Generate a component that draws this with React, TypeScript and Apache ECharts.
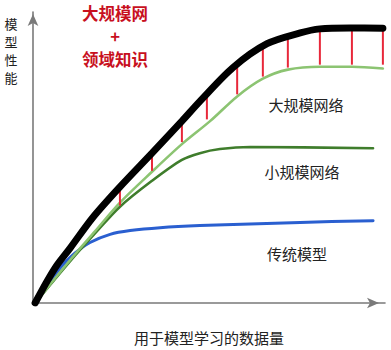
import React, { useEffect, useRef } from "react";
import * as echarts from "echarts";

// Curves (x: data amount 0-100, y: performance 0-100)
const bigDomainX = [0.6, 4.0, 6.8, 10.5, 17.0, 24.7, 33.8, 42.3, 47.4, 56.8, 66.5, 75.9, 81.5, 90.1, 99.4];
const bigDomainY = [0, 7.5, 13.0, 18.8, 29.4, 39.9, 51.5, 62.5, 69.3, 80.9, 89.1, 92.8, 94.2, 94.5, 94.4];

const bigNetX = [0.6, 10.5, 17.6, 24.7, 33.8, 42.3, 50.3, 58.0, 65.3, 72.4, 81.5, 90.6, 99.4];
const bigNetY = [0, 14.7, 24.6, 34.5, 45.1, 54.6, 62.5, 71.0, 77.1, 80.2, 81.2, 81.2, 80.6];

const smallNetX = [0.6, 10.5, 17.6, 24.7, 33.8, 42.3, 47.4, 53.1, 61.7, 96.6];
const smallNetY = [0, 14.3, 23.9, 33.1, 42.0, 49.2, 51.5, 52.9, 53.6, 53.2];

const tradX = [0.6, 7.7, 11.9, 16.2, 21.9, 27.6, 36.1, 47.4, 75.9, 96.6];
const tradY = [0, 12.0, 17.1, 20.8, 23.6, 24.9, 25.9, 26.6, 27.7, 28.3];

// Red gap markers between the top curve and the large-network curve
const gapX = [24.7, 33.8, 42.3, 49.4, 58.0, 65.3, 72.4, 81.5, 90.6, 99.4];
const gapTop = [39.3, 51.9, 63.1, 71.7, 80.9, 87.7, 91.1, 93.9, 93.9, 93.9];
const gapBottom = [33.5, 45.4, 55.3, 63.1, 71.7, 77.8, 80.9, 81.9, 81.9, 81.9];

const titleLines = ["大规模网", "+", "领域知识"];
const yName = ["模", "型", "性", "能"];
const xName = "用于模型学习的数据量";
const curveNames = ["大规模网络", "小规模网络", "传统模型"];

const pairs = (xs: number[], ys: number[]) => xs.map((x, i) => [x, ys[i]]);

const FONT = '"Noto Sans CJK SC", "Noto Sans", sans-serif';

export default function App() {
  const ref = useRef<HTMLDivElement>(null);
  useEffect(() => {
    document.body.style.margin = "0";
    const chart = echarts.init(ref.current!, undefined, { renderer: "svg" });
    const axisLine = {
      show: true,
      symbol: ["none", "arrow"],
      symbolSize: [8, 12],
      symbolOffset: [0, -6],
      lineStyle: { color: "#7a7a7a", width: 1.6 },
    };
    const lineBase = { type: "line", smooth: 0.3, showSymbol: false };
    chart.setOption({
      animation: false,
      backgroundColor: "#ffffff",
      grid: { left: 33, right: 6, top: 12, bottom: 45 },
      xAxis: {
        type: "value",
        min: 0,
        max: 100,
        axisLine,
        axisTick: { show: false },
        axisLabel: { show: false },
        splitLine: { show: false },
        name: xName,
        nameLocation: "middle",
        nameGap: 27,
        nameTextStyle: { fontFamily: FONT, fontSize: 15, color: "#222" },
      },
      yAxis: {
        type: "value",
        min: 0,
        max: 100,
        axisLine: { ...axisLine, symbolOffset: [0, -2] },
        axisTick: { show: false },
        axisLabel: { show: false },
        splitLine: { show: false },
      },
      series: [
        {
          ...lineBase,
          data: pairs(tradX, tradY),
          lineStyle: { color: "#2a5fd0", width: 3, cap: "round" },
          z: 2,
        },
        {
          ...lineBase,
          data: pairs(smallNetX, smallNetY),
          lineStyle: { color: "#3f7d2c", width: 2.6, cap: "round" },
          z: 3,
        },
        {
          ...lineBase,
          data: pairs(bigNetX, bigNetY),
          lineStyle: { color: "#8cc472", width: 2.6, cap: "round" },
          z: 4,
        },
        {
          type: "custom",
          data: gapX.map((x, i) => [x, gapTop[i], gapBottom[i]]),
          renderItem: (params: any, api: any) => {
            const p1 = api.coord([api.value(0), api.value(1)]);
            const p2 = api.coord([api.value(0), api.value(2)]);
            return {
              type: "line",
              shape: { x1: p1[0], y1: p1[1], x2: p2[0], y2: p2[1] },
              style: { stroke: "#e8283a", lineWidth: 2 },
            };
          },
          z: 5,
        },
        {
          ...lineBase,
          data: pairs(bigDomainX, bigDomainY),
          lineStyle: { color: "#000000", width: 7, cap: "round" },
          z: 6,
        },
      ],
      graphic: [
        ...titleLines.map((t, i) => ({
          type: "text",
          x: 115,
          y: [13, 36, 59][i],
          style: {
            text: t,
            fill: "#c8101e",
            font: `bold 16.5px ${FONT}`,
            align: "center",
            verticalAlign: "middle",
          },
        })),
        ...yName.map((t, i) => ({
          type: "text",
          x: 11,
          y: 23 + i * 18,
          style: {
            text: t,
            fill: "#222",
            font: `13px ${FONT}`,
            align: "center",
            verticalAlign: "middle",
          },
        })),
        ...curveNames.map((t, i) => ({
          type: "text",
          x: [306, 302, 297][i],
          y: [104, 171, 253][i],
          style: {
            text: t,
            fill: "#222",
            font: `15px ${FONT}`,
            align: "center",
            verticalAlign: "middle",
          },
        })),
      ],
    });
    return () => chart.dispose();
  }, []);
  return <div ref={ref} style={{ width: 391, height: 350 }} />;
}
